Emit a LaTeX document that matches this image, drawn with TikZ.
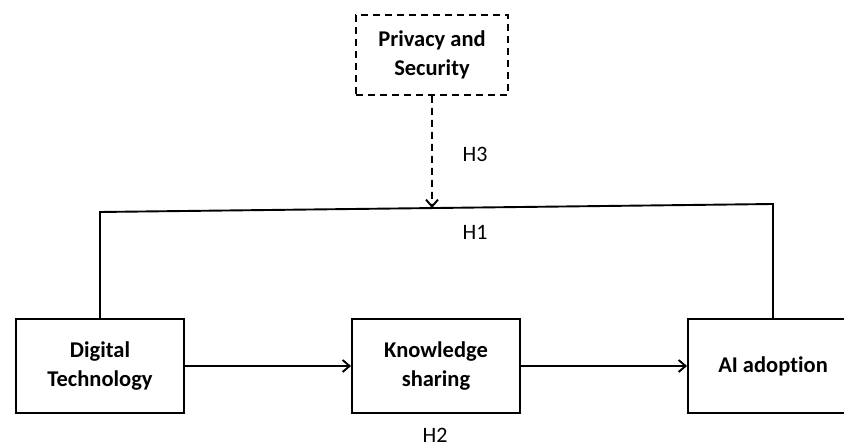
\documentclass[tikz,border=0pt]{standalone}
\usepackage{fontspec}
\setmainfont{Carlito}[Ligatures=NoCommon]
\usepackage{tikz}
\usetikzlibrary{arrows.meta, positioning, calc}

\begin{document}
\begin{tikzpicture}[x=1pt, y=-1pt,
    box/.style={draw, line width=1.9pt, minimum width=168pt, minimum height=94pt, align=center,
      font=\bfseries\fontsize{22.5}{29}\selectfont},
    modbox/.style={box, dashed, dash pattern=on 7pt off 5pt, minimum width=152pt, minimum height=80pt},
    hyp/.style={font=\fontsize{22}{26}\selectfont, inner sep=0pt},
    arr/.style={line width=1.9pt, -{Straight Barb[length=7pt, width=12pt, line width=1.9pt]}},
    link/.style={line width=1.9pt}
  ]
  \useasboundingbox (0,0) rectangle (844,446);

  % Constructs
  \node[box] (dt) at (100, 366) {Digital\\Technology};
  \node[box] (ks) at (436, 366) {Knowledge\\sharing};
  \node[box, minimum width=170pt] (ai) at (773, 366) {AI adoption};
  \node[modbox] (ps) at (432, 55) {Privacy and\\Security};

  % Direct path
  \coordinate (h1l) at (100, 212);
  \coordinate (h1r) at (773, 204);
  \draw[link] (dt.north) -- (h1l) -- (h1r) -- (ai.north);

  % Mediated path
  \draw[arr] (dt) -- (ks);
  \draw[arr] (ks) -- (ai);

  % Moderation
  \coordinate (mod) at ($(h1l)!0.4933!(h1r)$);
  \draw[arr, dashed, dash pattern=on 7pt off 5pt] (ps.south) -- (mod);

  % Hypotheses
  \node[hyp] (h3) at (475, 154) {H3};
  \node[hyp] (h1) at (475, 232) {H1};
  \node[hyp] (h2) at (435, 435) {H2};
\end{tikzpicture}
\end{document}
